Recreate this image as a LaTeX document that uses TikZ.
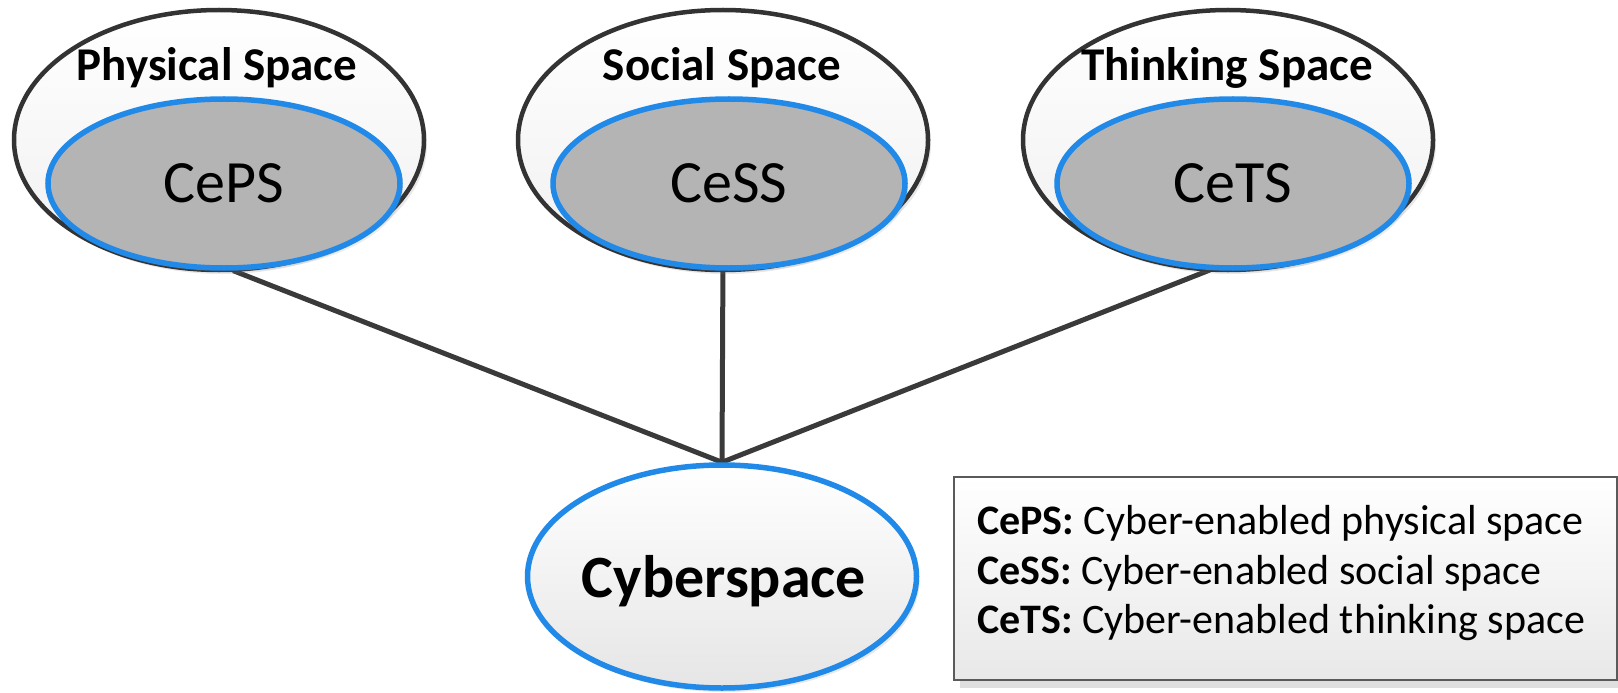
\documentclass[tikz,border=0pt]{standalone}
\usepackage{fontspec}
\setmainfont{Carlito}
\usetikzlibrary{shapes.geometric,shadows,calc,backgrounds}

\definecolor{rim}{HTML}{333333}
\definecolor{cyberblue}{HTML}{2189E8}
\definecolor{core}{HTML}{B4B4B4}
\definecolor{wire}{HTML}{3A3A3A}
\definecolor{frame}{HTML}{5A5A5A}

\begin{document}
\begin{tikzpicture}[x=1bp,y=-1bp,
  spaceouter/.style={ellipse, draw=rim, line width=4.5bp,
    top color=white, bottom color=black!6,
    minimum width=410bp, minimum height=260bp, inner sep=0pt,
    drop shadow={opacity=0.18, shadow xshift=3bp, shadow yshift=-4bp}},
  spaceinner/.style={ellipse, draw=cyberblue, line width=5.5bp, fill=core,
    minimum width=352bp, minimum height=169bp, inner sep=0pt,
    font=\fontsize{60bp}{70bp}\selectfont,
    drop shadow={opacity=0.15, shadow xshift=3bp, shadow yshift=-4bp}},
  spacetitle/.style={anchor=base, inner sep=0pt,
    font=\fontsize{47bp}{56bp}\selectfont\bfseries},
  hub/.style={ellipse, draw=cyberblue, line width=5.5bp,
    top color=white, bottom color=black!10,
    minimum width=389bp, minimum height=223bp, inner sep=0pt,
    drop shadow={opacity=0.18, shadow xshift=3bp, shadow yshift=-4bp}},
  hubtitle/.style={anchor=base, inner sep=0pt,
    font=\fontsize{60bp}{70bp}\selectfont\bfseries},
  keybox/.style={rectangle, draw=frame, line width=2.5bp,
    top color=white, bottom color=black!9,
    minimum width=663bp, minimum height=203bp, inner sep=0pt,
    drop shadow={opacity=0.25, shadow xshift=6bp, shadow yshift=-8bp}},
  keyline/.style={anchor=base west, inner sep=0pt,
    font=\fontsize{42bp}{50bp}\selectfont},
  wireline/.style={draw=wire, line width=5bp}
]
\useasboundingbox (0,0) rectangle (1618,693);

% the three spaces, each with its cyber-enabled core
\node[spaceouter] (phys)  at (219,140)  {};
\node[spaceouter] (soc)   at (723,140)  {};
\node[spaceouter] (think) at (1228,140) {};

\node[spaceinner] (physin)  at (224,183.5)  {CePS};
\node[spaceinner] (socin)   at (729,183.5)  {CeSS};
\node[spaceinner] (thinkin) at (1233,183.5) {CeTS};

\node[spacetitle] (physlbl)  at ($(phys.north)+(-2,73)$)  {Physical Space};
\node[spacetitle] (soclbl)   at ($(soc.north)+(-1,73)$)   {Social Space};
\node[spacetitle] (thinklbl) at ($(think.north)+(-1,73)$) {Thinking Space};

% cyberspace hub
\node[hub] (cyber) at (722,576.5) {};
\node[hubtitle] (cyberlbl) at (724,597) {Cyberspace};

% connectors from each core down to the hub
\begin{pgfonlayer}{background}
  \draw[wireline] (physin.-84)   -- (cyber.north);
  \draw[wireline] (socin.-94)    -- (cyber.north);
  \draw[wireline] (thinkin.-105) -- (cyber.north);
\end{pgfonlayer}

% key
\node[keybox] (legend) at (1285.5,578.5) {};
\node[keyline] (keyp) at (977,534) {\textbf{CePS:} Cyber-enabled physical space};
\node[keyline] (keys) at (977,584) {\textbf{CeSS:} Cyber-enabled social space};
\node[keyline] (keyt) at (977,633) {\textbf{CeTS:} Cyber-enabled thinking space};
\end{tikzpicture}
\end{document}
